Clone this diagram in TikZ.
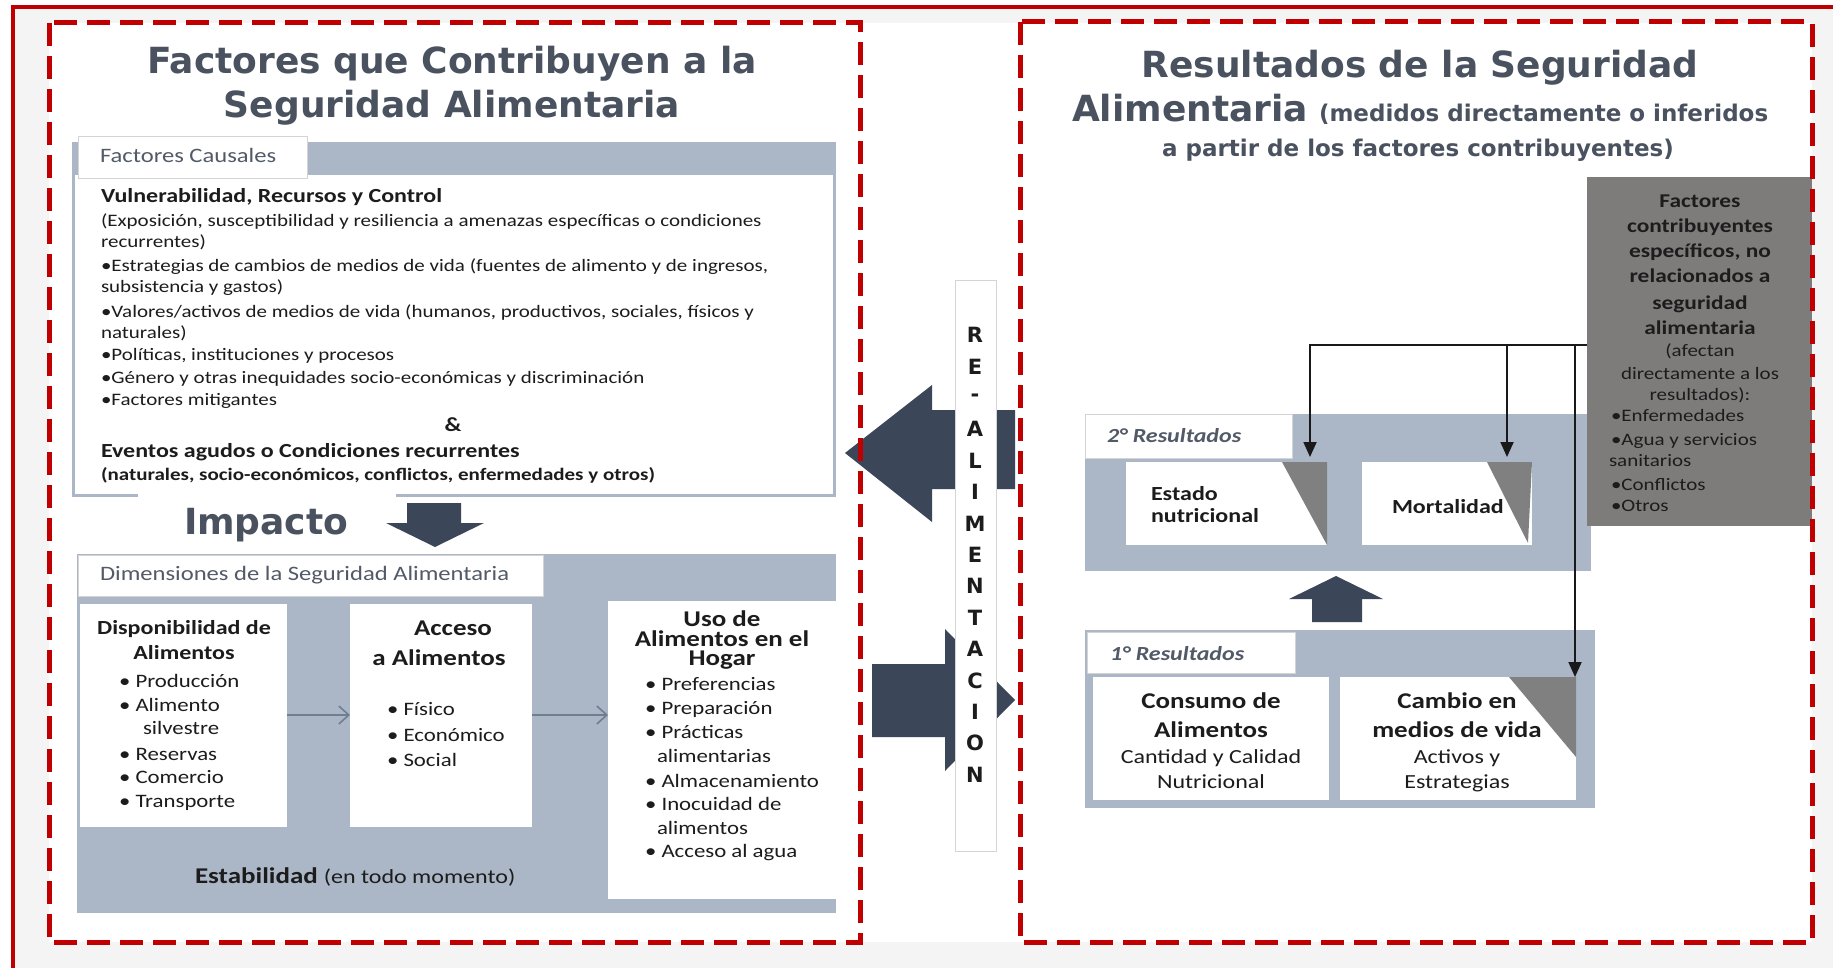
\documentclass[tikz,border=0pt]{standalone}
\usepackage{fontspec}
\usetikzlibrary{arrows.meta}
\newfontfamily\dvs{DejaVu Sans}
\newfontfamily\crl[FakeStretch=1.2]{Carlito}
\definecolor{redc}{RGB}{192,0,0}
\definecolor{bandc}{RGB}{171,182,199}
\definecolor{arrowc}{RGB}{59,70,88}
\definecolor{titlec}{RGB}{74,82,96}
\definecolor{tabtxt}{RGB}{82,90,104}
\definecolor{txtc}{RGB}{28,28,28}
\definecolor{grayboxc}{RGB}{126,123,123}
\definecolor{trigc}{RGB}{128,128,128}
\definecolor{framec}{RGB}{244,244,244}
\definecolor{thinarr}{RGB}{112,126,146}
\definecolor{edgec}{RGB}{212,212,212}
\newcommand\fBody{\crl\mdseries\upshape\fontsize{17.5}{21}\selectfont}
\newcommand\fBodyB{\crl\bfseries\fontsize{17.5}{21}\selectfont}
\newcommand\fHead{\crl\bfseries\fontsize{20}{24}\selectfont}
\newcommand\fBul{\crl\mdseries\upshape\fontsize{19}{23}\selectfont}
\newcommand\fBox{\crl\bfseries\fontsize{22.5}{26}\selectfont}
\newcommand\fBoxR{\crl\mdseries\upshape\fontsize{20}{24}\selectfont}
\newcommand\fTitle{\dvs\bfseries\fontsize{36}{40}\selectfont}
\newcommand\fSub{\dvs\bfseries\fontsize{23}{27}\selectfont}
\newcommand\fTab{\crl\mdseries\upshape\fontsize{20.5}{24}\selectfont}
\newcommand\fRes{\crl\bfseries\itshape\fontsize{20}{24}\selectfont}
\newcommand\fGrayB{\crl\bfseries\fontsize{19.5}{23}\selectfont}
\newcommand\fGrayR{\crl\mdseries\upshape\fontsize{17.5}{21}\selectfont}
\newcommand\fVert{\dvs\bfseries\fontsize{21}{24}\selectfont}
\begin{document}
\begin{tikzpicture}[x=1pt,y=-1pt,
  every node/.style={inner sep=0pt,outer sep=0pt},
  tl/.style={anchor=base west,text=txtc},
  tc/.style={anchor=base,text=txtc},
  panel/.style={anchor=north west,fill=bandc,draw=none},
  wbox/.style={anchor=north west,fill=white,draw=none},
  tabbox/.style={anchor=north west,fill=white,draw=edgec,line width=1pt},
  blockarrow/.style={fill=arrowc,draw=none},
  thinconn/.style={draw=thinarr,line width=1.6pt,-{Straight Barb[length=10pt,width=18pt,line width=1.6pt]}},
  conn/.style={draw=black!90,line width=1.8pt,-{Triangle[length=15pt,width=13pt]}},
  dashbox/.style={draw=redc,line width=5pt,dash pattern=on 23pt off 10pt}
]
\useasboundingbox (0,0) rectangle (1833,968);
% background frame
\fill[framec] (13,7) rectangle (1833,968);
\fill[white] (49,23) rectangle (1812,942);
\draw[redc,line width=3.5pt] (13,968) -- (13,7) -- (1833,7);

% ---------- LEFT ----------
\node[anchor=base,text=titlec,font=\fTitle] (lt1) at (452,74) {Factores que Contribuyen a la};
\node[anchor=base,text=titlec,font=\fTitle] (lt2) at (452,118) {Seguridad Alimentaria};

% Factores causales panel
\node[panel,minimum width=764pt,minimum height=355pt] (fcpanel) at (72,142) {};
\node[wbox,minimum width=758pt,minimum height=319pt] (fcarea) at (75,175) {};
\fill[white] (138,492) rectangle (396,499);
\node[tabbox,minimum width=229pt,minimum height=42pt] (fctab) at (78,137) {};
\node[anchor=base west,text=tabtxt,font=\fTab] (fctabt) at (100,163) {Factores Causales};

\node[tl,font=\fHead] (c1) at (101,203) {Vulnerabilidad, Recursos y Control};
\node[tl,font=\fBody] (c2) at (101,227) {(Exposición, susceptibilidad y resiliencia a amenazas específicas o condiciones};
\node[tl,font=\fBody] (c3) at (101,248) {recurrentes)};
\node[tl,font=\fBody] (c4) at (101,272) {•Estrategias de cambios de medios de vida (fuentes de alimento y de ingresos,};
\node[tl,font=\fBody] (c5) at (101,293) {subsistencia y gastos)};
\node[tl,font=\fBody] (c6) at (101,317) {•Valores/activos de medios de vida (humanos, productivos, sociales, físicos y};
\node[tl,font=\fBody] (c7) at (101,338) {naturales)};
\node[tl,font=\fBody] (c8) at (101,360) {•Políticas, instituciones y procesos};
\node[tl,font=\fBody] (c9) at (101,383) {•Género y otras inequidades socio-económicas y discriminación};
\node[tl,font=\fBody] (c10) at (101,405) {•Factores mitigantes};
\node[tc,font=\fHead] (amp) at (453,431) {\&};
\node[tl,font=\fHead] (c11) at (101,457) {Eventos agudos o Condiciones recurrentes};
\node[tl,font=\fBodyB] (c12) at (101,480) {(naturales, socio-económicos, conflictos, enfermedades y otros)};

% Impacto
\node[anchor=base west,text=titlec,font=\fTitle] (imp) at (184,534) {Impacto};
\fill[blockarrow] (407,503) -- (461,503) -- (461,523) -- (484,523) -- (435,547) -- (386,523) -- (407,523) -- cycle;

% Dimensiones panel
\node[panel,minimum width=759pt,minimum height=359pt] (dimpanel) at (77,554) {};
\node[tabbox,minimum width=465pt,minimum height=41pt] (dimtab) at (78,555) {};
\node[anchor=base west,text=tabtxt,font=\fTab] (dimtabt) at (100,580) {Dimensiones de la Seguridad Alimentaria};

\node[wbox,minimum width=207pt,minimum height=223pt] (b1) at (80,604) {};
\node[wbox,minimum width=182pt,minimum height=223pt] (b2) at (350,604) {};
\node[wbox,minimum width=228pt,minimum height=298pt] (b3) at (608,601) {};

\node[tc,font=\fHead] (b1h1) at (184,634) {Disponibilidad de};
\node[tc,font=\fHead] (b1h2) at (184,659) {Alimentos};
\node[tl,font=\fBul] (b1l1) at (119,687) {• Producción};
\node[tl,font=\fBul] (b1l2) at (119,711) {• Alimento};
\node[tl,font=\fBul] (b1l3) at (143,734) {silvestre};
\node[tl,font=\fBul] (b1l4) at (119,760) {• Reservas};
\node[tl,font=\fBul] (b1l5) at (119,783) {• Comercio};
\node[tl,font=\fBul] (b1l6) at (119,807) {• Transporte};

\node[tc,font=\fBox] (b2h1) at (453,635) {Acceso};
\node[tc,font=\fBox] (b2h2) at (439,665) {a Alimentos};
\node[tl,font=\fBul] (b2l1) at (387,715) {• Físico};
\node[tl,font=\fBul] (b2l2) at (387,741) {• Económico};
\node[tl,font=\fBul] (b2l3) at (387,766) {• Social};

\node[tc,font=\fBox] (b3h1) at (722,626) {Uso de};
\node[tc,font=\fBox] (b3h2) at (722,646) {Alimentos en el};
\node[tc,font=\fBox] (b3h3) at (722,665) {Hogar};
\node[tl,font=\fBul] (b3l1) at (645,690) {• Preferencias};
\node[tl,font=\fBul] (b3l2) at (645,714) {• Preparación};
\node[tl,font=\fBul] (b3l3) at (645,738) {• Prácticas};
\node[tl,font=\fBul] (b3l4) at (657,762) {alimentarias};
\node[tl,font=\fBul] (b3l5) at (645,787) {• Almacenamiento};
\node[tl,font=\fBul] (b3l6) at (645,810) {• Inocuidad de};
\node[tl,font=\fBul] (b3l7) at (657,834) {alimentos};
\node[tl,font=\fBul] (b3l8) at (645,857) {• Acceso al agua};

\node[tl,font=\fBox] (estab) at (195,883) {Estabilidad {\fBoxR(en todo momento)}};

\coordinate (ya) at (0,715);
\draw[thinconn] (b1.east |- ya) -- (b2.west |- ya);
\draw[thinconn] (b2.east |- ya) -- (b3.west |- ya);

% ---------- MIDDLE: feedback ----------
\fill[blockarrow] (1015,410) -- (932,410) -- (932,385) -- (845,453) -- (932,522) -- (932,489) -- (1015,489) -- cycle;
\fill[blockarrow] (872,664) -- (945,664) -- (945,629) -- (1015,700) -- (945,771) -- (945,737) -- (872,737) -- cycle;
\node[wbox,draw=edgec,line width=1pt,minimum width=41pt,minimum height=570pt] (vlabel) at (955,281) {};
\foreach \l [count=\i from 0] in {R,E,-,A,L,I,M,E,N,T,A,C,I,O,N}
  \node[text=txtc,font=\fVert] (vl\i) at (975,{335+\i*31.4}) {\l};

% ---------- RIGHT ----------
\node[anchor=base,text=titlec,font=\fTitle] (rt1) at (1420,78) {Resultados de la Seguridad};
\node[anchor=base west,text=titlec,font=\fTitle] (rt2a) at (1072,122) {Alimentaria};
\node[anchor=base west,text=titlec,font=\fSub] (rt2b) at ([xshift=11pt]rt2a.base east) {(medidos directamente o inferidos};
\node[anchor=base,text=titlec,font=\fSub] (rt3) at (1418,157) {a partir de los factores contribuyentes)};

% 2° resultados
\node[panel,minimum width=506pt,minimum height=157pt] (p2) at (1085,414) {};
\node[tabbox,minimum width=207pt,minimum height=44pt] (p2tab) at (1085,414) {};
\node[anchor=base west,text=tabtxt,font=\fRes] (p2t) at (1107,442) {2° Resultados};
\node[wbox,minimum width=201pt,minimum height=83pt] (bE) at (1126,462) {};
\fill[trigc] (1282,462) -- (1327,462) -- (1327,545) -- cycle;
\node[tl,font=\fHead] (bEt1) at (1151,500) {Estado};
\node[tl,font=\fHead] (bEt2) at (1151,522) {nutricional};
\node[wbox,minimum width=170pt,minimum height=83pt] (bM) at (1362,462) {};
\fill[trigc] (1487,462) -- (1532,462) -- (1528,543) -- cycle;
\node[tl,font=\fHead] (bMt) at (1392,513) {Mortalidad};

% up arrow
\fill[blockarrow] (1312,622) -- (1312,599) -- (1289,599) -- (1336,576) -- (1383,599) -- (1362,599) -- (1362,622) -- cycle;

% 1° resultados
\node[panel,minimum width=510pt,minimum height=178pt] (p1) at (1085,630) {};
\node[tabbox,minimum width=208pt,minimum height=41pt] (p1tab) at (1087,632) {};
\node[anchor=base west,text=tabtxt,font=\fRes] (p1t) at (1110,660) {1° Resultados};
\node[wbox,minimum width=236pt,minimum height=123pt] (bCo) at (1093,677) {};
\node[wbox,minimum width=236pt,minimum height=123pt] (bC) at (1340,677) {};
\fill[trigc] (1509,677) -- (1576,677) -- (1576,757) -- cycle;
\node[tc,font=\fBox] (bCo1) at (1211,708) {Consumo de};
\node[tc,font=\fBox] (bCo2) at (1211,737) {Alimentos};
\node[tc,font=\fBoxR] (bCo3) at (1211,763) {Cantidad y Calidad};
\node[tc,font=\fBoxR] (bCo4) at (1211,788) {Nutricional};
\node[tc,font=\fBox] (bC1) at (1457,708) {Cambio en};
\node[tc,font=\fBox] (bC2) at (1457,737) {medios de vida};
\node[tc,font=\fBoxR] (bC3) at (1457,763) {Activos y};
\node[tc,font=\fBoxR] (bC4) at (1457,788) {Estrategias};

% gray box
\node[anchor=north west,fill=grayboxc,minimum width=225pt,minimum height=349pt] (fcbox) at (1587,177) {};
\node[tc,font=\fGrayB] (g1) at (1700,208) {Factores};
\node[tc,font=\fGrayB] (g2) at (1700,233) {contribuyentes};
\node[tc,font=\fGrayB] (g3) at (1700,258) {específicos, no};
\node[tc,font=\fGrayB] (g4) at (1700,283) {relacionados a};
\node[tc,font=\fGrayB] (g5) at (1700,309) {seguridad};
\node[tc,font=\fGrayB] (g6) at (1700,334) {alimentaria};
\node[tc,font=\fGrayR] (g7) at (1700,356) {(afectan};
\node[tc,font=\fGrayR] (g8) at (1700,379) {directamente a los};
\node[tc,font=\fGrayR] (g9) at (1700,400) {resultados):};
\node[tl,font=\fGrayR] (g10) at (1611,421) {•Enfermedades};
\node[tl,font=\fGrayR] (g11) at (1611,445) {•Agua y servicios};
\node[tl,font=\fGrayR] (g12) at (1609,466) {sanitarios};
\node[tl,font=\fGrayR] (g13) at (1611,490) {•Conflictos};
\node[tl,font=\fGrayR] (g14) at (1611,511) {•Otros};

% connectors from gray box
\coordinate (h1) at (1310,345);
\coordinate (h2) at (1507,345);
\coordinate (h3) at (1575,345);
\draw[conn,shorten >=5pt] (fcbox.west |- h1) -- (h1) -- (h1 |- bE.north);
\draw[conn,shorten >=5pt] (h2) -- (h2 |- bM.north);
\draw[conn] (h3) -- (h3 |- bC.north);

% dashed boxes
\draw[dashbox] (49,23) rectangle (860,942);
\draw[dashbox] (1020,22) rectangle (1812,942);
\end{tikzpicture}
\end{document}
